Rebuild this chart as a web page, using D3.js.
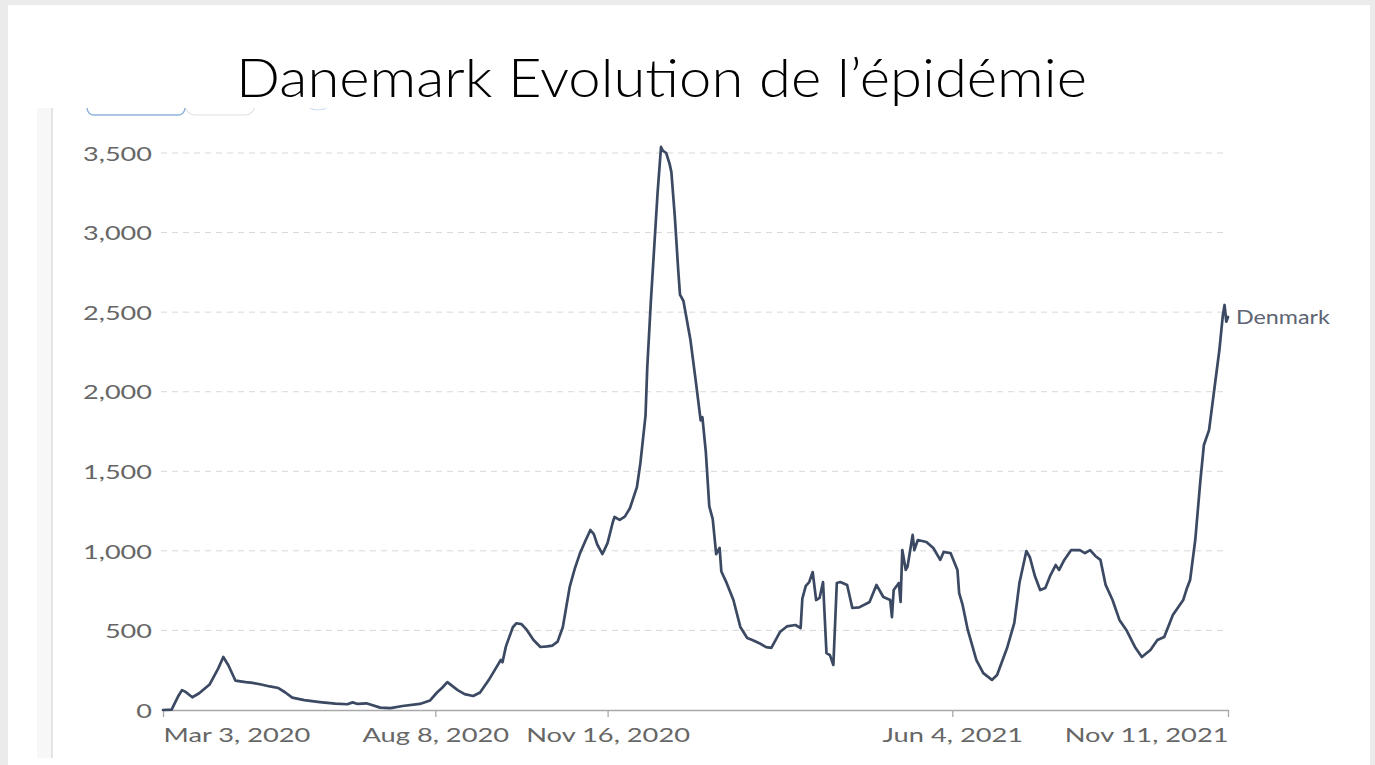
<!DOCTYPE html>
<html><head><meta charset="utf-8">
<script src="https://cdn.jsdelivr.net/npm/d3@7"></script>
<style>html,body{margin:0;padding:0;background:#ebebec;overflow:hidden;} svg{display:block;}</style>
</head><body><svg id="c" width="1375" height="765"></svg>
<script>
const title = "Danemark Evolution de l’épidémie";
const seriesName = "Denmark";
const yTicks = [0, 500, 1000, 1500, 2000, 2500, 3000, 3500];
const xTickDates = ["2020-03-03", "2020-08-08", "2020-11-16", "2021-06-04", "2021-11-11"];
const xTickLabels = ["Mar 3, 2020", "Aug 8, 2020", "Nov 16, 2020", "Jun 4, 2021", "Nov 11, 2021"];
const dates = [
"2020-03-03","2020-03-08","2020-03-12","2020-03-14","2020-03-16","2020-03-20","2020-03-24","2020-03-30",
"2020-04-04","2020-04-07","2020-04-10","2020-04-14","2020-04-20","2020-04-24","2020-04-29","2020-05-04",
"2020-05-09","2020-05-13","2020-05-17","2020-05-24","2020-06-02","2020-06-11","2020-06-18","2020-06-21",
"2020-06-24","2020-06-29","2020-07-07","2020-07-13","2020-07-20","2020-07-30","2020-08-05","2020-08-09",
"2020-08-12","2020-08-15","2020-08-21","2020-08-25","2020-08-30","2020-09-03","2020-09-08","2020-09-12",
"2020-09-15","2020-09-16","2020-09-18","2020-09-22","2020-09-24","2020-09-27","2020-09-30","2020-10-04",
"2020-10-08","2020-10-12","2020-10-15","2020-10-18","2020-10-21","2020-10-25","2020-10-28","2020-10-31",
"2020-11-03","2020-11-06","2020-11-08","2020-11-10","2020-11-13","2020-11-16","2020-11-19","2020-11-20",
"2020-11-23","2020-11-26","2020-11-29","2020-12-03","2020-12-05","2020-12-08","2020-12-09","2020-12-11",
"2020-12-13","2020-12-15","2020-12-17","2020-12-18","2020-12-20","2020-12-22","2020-12-23","2020-12-25",
"2020-12-27","2020-12-28","2020-12-30","2021-01-03","2021-01-06","2021-01-09","2021-01-10","2021-01-12",
"2021-01-14","2021-01-16","2021-01-18","2021-01-20","2021-01-21","2021-01-24","2021-01-28","2021-02-01",
"2021-02-05","2021-02-08","2021-02-12","2021-02-16","2021-02-19","2021-02-24","2021-02-28","2021-03-05",
"2021-03-08","2021-03-09","2021-03-11","2021-03-13","2021-03-15","2021-03-17","2021-03-19","2021-03-21",
"2021-03-23","2021-03-25","2021-03-27","2021-03-29","2021-03-31","2021-04-04","2021-04-07","2021-04-11",
"2021-04-17","2021-04-21","2021-04-25","2021-04-29","2021-04-30","2021-05-01","2021-05-04","2021-05-05",
"2021-05-06","2021-05-08","2021-05-09","2021-05-12","2021-05-13","2021-05-15","2021-05-20","2021-05-24",
"2021-05-28","2021-05-30","2021-06-03","2021-06-07","2021-06-08","2021-06-10","2021-06-13","2021-06-18",
"2021-06-22","2021-06-27","2021-06-30","2021-07-06","2021-07-10","2021-07-13","2021-07-17","2021-07-19",
"2021-07-22","2021-07-25","2021-07-28","2021-07-31","2021-08-03","2021-08-05","2021-08-08","2021-08-12",
"2021-08-17","2021-08-20","2021-08-23","2021-08-26","2021-08-29","2021-09-01","2021-09-05","2021-09-09",
"2021-09-13","2021-09-18","2021-09-22","2021-09-27","2021-10-01","2021-10-05","2021-10-10","2021-10-16",
"2021-10-18","2021-10-20","2021-10-23","2021-10-26","2021-10-28","2021-10-31","2021-11-03","2021-11-06",
"2021-11-08","2021-11-09","2021-11-10","2021-11-11"];
const cases = [
0,2,90,125,115,80,105,160,
260,333,280,185,175,170,160,148,
138,110,78,62,50,40,36,48,
38,42,15,12,25,38,60,110,
140,175,125,100,88,110,188,260,
314,300,400,520,545,540,505,440,
396,400,405,430,520,773,890,986,
1060,1131,1105,1040,980,1050,1180,1213,
1195,1215,1269,1400,1550,1850,2150,2550,
2900,3250,3538,3515,3500,3430,3380,3100,
2760,2610,2570,2330,2080,1820,1840,1620,
1280,1200,980,1018,870,800,691,522,
452,440,420,395,390,490,525,534,
515,700,780,804,867,691,704,804,
358,345,283,798,804,785,641,645,
679,786,710,691,584,754,798,679,
1005,880,899,1100,1005,1068,1056,1018,
943,993,986,880,735,660,503,314,
232,189,220,396,547,800,999,960,
840,754,767,848,911,880,943,1005,
1005,986,1005,968,943,786,691,566,
503,396,333,377,440,459,597,691,
760,817,1068,1445,1665,1759,2011,2262,
2480,2545,2440,2470];

const parse = d3.timeParse("%Y-%m-%d");
const data = dates.map((d, i) => ({date: parse(d), v: cases[i]}));
const tickDates = xTickDates.map(parse);

const svg = d3.select("#c");
const W = 1375, H = 765;

// slide
svg.append("rect").attr("x", 8).attr("y", 5).attr("width", 1362).attr("height", 760).attr("fill", "#ffffff");

// embedded chart panel left strip
svg.append("rect").attr("x", 37).attr("y", 108).attr("width", 15).attr("height", 650).attr("fill", "#f7f7f7");
svg.append("line").attr("x1", 52).attr("x2", 52).attr("y1", 108).attr("y2", 758).attr("stroke", "#dedede").attr("stroke-width", 1.5);

// partial buttons (cropped)
const defs = svg.append("defs");
defs.append("clipPath").attr("id", "btnclip").append("rect").attr("x", 0).attr("y", 108).attr("width", W).attr("height", 20);
const btn = svg.append("g").attr("clip-path", "url(#btnclip)");
btn.append("rect").attr("x", 185).attr("y", 90).attr("width", 70).attr("height", 25).attr("rx", 10).attr("fill", "#fff").attr("stroke", "#e2e2e2").attr("stroke-width", 1.2);
btn.append("rect").attr("x", 87).attr("y", 90).attr("width", 98).attr("height", 25).attr("rx", 7).attr("fill", "#fff").attr("stroke", "#8fb4dc").attr("stroke-width", 1.4);
btn.append("ellipse").attr("cx", 318).attr("cy", 100).attr("rx", 14).attr("ry", 10).attr("fill", "none").attr("stroke", "#cfe0f2").attr("stroke-width", 1.2);

const x = d3.scaleTime().domain([tickDates[0], tickDates[tickDates.length - 1]]).range([163, 1228]);
const y = d3.scaleLinear().domain([0, 3500]).range([710, 153]);

// gridlines
svg.append("g").selectAll("line").data(yTicks.filter(t => t > 0)).join("line")
  .attr("x1", 161).attr("x2", 1228)
  .attr("y1", d => y(d)).attr("y2", d => y(d))
  .attr("stroke", "#d8d8d8").attr("stroke-width", 1).attr("stroke-dasharray", "6,5");

const font = "Lato, 'Open Sans', sans-serif";

// y axis
const yAx = svg.append("g").attr("transform", "translate(163,0)")
  .call(d3.axisLeft(y).tickValues(yTicks).tickSize(0).tickPadding(11).tickFormat(d3.format(",")));
yAx.select(".domain").remove();
yAx.selectAll("text").attr("font-family", font).attr("font-size", 20).attr("fill", "#666").attr("dy", "0.36em");

// x axis
const xAx = svg.append("g").attr("transform", "translate(0,710)")
  .call(d3.axisBottom(x).tickValues(tickDates).tickSize(7).tickSizeOuter(0).tickFormat((d, i) => xTickLabels[i]));
xAx.select(".domain").attr("stroke", "#a9a9a9").attr("stroke-width", 1.3);
xAx.selectAll(".tick line").attr("stroke", "#a9a9a9").attr("stroke-width", 1.3);
xAx.selectAll("text").attr("font-family", font).attr("font-size", 20).attr("fill", "#666")
  .attr("dy", 0).attr("y", 32)
  .attr("text-anchor", (d, i) => i === 0 ? "start" : (i === tickDates.length - 1 ? "end" : "middle"));

// line
svg.append("path").datum(data)
  .attr("d", d3.line().x(d => x(d.date)).y(d => y(d.v)))
  .attr("fill", "none").attr("stroke", "#3b4962").attr("stroke-width", 2.7)
  .attr("stroke-linejoin", "round").attr("stroke-linecap", "round");

// series label
const last = data[data.length - 1];
const lab = svg.append("text").text(seriesName)
  .attr("font-family", font).attr("font-size", 19).attr("fill", "#5d6473");

// title
const tt = svg.append("text").text(title)
  .attr("font-family", "Lato, 'Open Sans', sans-serif").attr("font-weight", 300)
  .attr("font-size", 53).attr("fill", "#000").attr("text-anchor", "middle");

// horizontal fitting to the (stretched) reference screenshot
function fit(sel, target) {
  const len = sel.node().getComputedTextLength();
  return target / len;
}
const sx = fit(xAx.select(".tick text"), 147);
xAx.selectAll("text").attr("transform", `scale(${sx},1)`);
const sy = fit(yAx.selectAll(".tick text").filter(d => d === 3500), 69);
yAx.selectAll("text").attr("x", -11 / sy).attr("transform", `scale(${sy},1)`);
const sl = fit(lab, 94);
lab.attr("transform", `translate(${x(last.date) + 8},${y(last.v) + 7}) scale(${sl},1)`);
const st = fit(tt, 851);
tt.attr("transform", `translate(661.5,97) scale(${st},1)`);
</script>
</body></html>
